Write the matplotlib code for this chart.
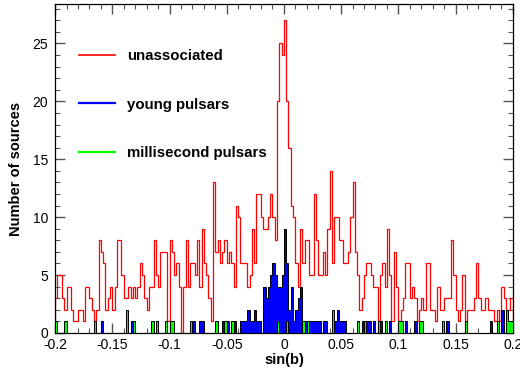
import numpy as np
import matplotlib.pyplot as plt
from matplotlib.lines import Line2D
from matplotlib.ticker import MultipleLocator, FuncFormatter

plt.rcParams['font.family'] = ['Liberation Sans', 'DejaVu Sans']
plt.rcParams['axes.unicode_minus'] = False

# sin(b) histogram, 200 bins of 0.002 between -0.2 and 0.2
bin_lo = -0.2
bin_hi = 0.2
nbins = 200

unassociated = [
    3, 5, 5, 3, 2, 4, 4, 2, 1, 1, 2, 2, 1, 4, 4, 3, 2, 1, 2, 8,
    7, 6, 2, 3, 4, 2, 4, 8, 8, 5, 3, 3, 4, 3, 4, 3, 4, 6, 5, 3,
    2, 4, 4, 8, 5, 4, 7, 7, 7, 1, 8, 7, 5, 6, 4, 0, 4, 8, 4, 6,
    6, 5, 8, 4, 9, 6, 5, 3, 1, 13, 7, 8, 6, 7, 8, 6, 7, 6, 4, 11,
    10, 6, 6, 6, 4, 5, 9, 6, 12, 12, 10, 9, 9, 10, 12, 10, 8, 20, 25, 24,
    27, 20, 16, 11, 10, 6, 4, 9, 6, 8, 8, 5, 5, 12, 8, 5, 5, 7, 5, 9,
    14, 6, 10, 10, 8, 8, 6, 6, 7, 10, 13, 7, 5, 2, 3, 5, 6, 6, 5, 4,
    4, 0, 5, 6, 4, 9, 5, 1, 7, 4, 1, 2, 3, 6, 6, 3, 4, 3, 1, 2,
    3, 2, 6, 6, 2, 2, 1, 4, 2, 2, 3, 3, 3, 8, 5, 2, 1, 2, 5, 0,
    2, 2, 2, 3, 6, 3, 2, 2, 3, 2, 2, 2, 1, 2, 1, 4, 3, 2, 2, 3,
]

young = [
    0, 0, 0, 0, 0, 0, 0, 0, 0, 0, 0, 0, 0, 0, 0, 0, 0, 0, 0, 0,
    1, 0, 0, 0, 0, 0, 0, 0, 0, 0, 0, 0, 0, 1, 0, 0, 0, 0, 0, 0,
    0, 0, 0, 0, 0, 0, 0, 0, 0, 0, 0, 0, 0, 0, 0, 0, 0, 0, 0, 0,
    1, 0, 0, 1, 1, 0, 0, 0, 0, 0, 0, 0, 0, 1, 0, 1, 0, 0, 1, 0,
    0, 1, 1, 1, 2, 1, 1, 2, 1, 1, 0, 4, 3, 4, 5, 6, 5, 4, 4, 5,
    9, 6, 2, 4, 1, 2, 3, 4, 1, 1, 0, 1, 1, 1, 1, 1, 0, 1, 1, 0,
    0, 0, 1, 2, 1, 1, 1, 0, 0, 0, 0, 0, 0, 0, 1, 0, 1, 1, 0, 1,
    0, 0, 1, 0, 0, 0, 1, 0, 0, 0, 0, 0, 0, 1, 0, 0, 0, 1, 0, 0,
    0, 0, 0, 0, 0, 0, 0, 0, 0, 0, 0, 1, 0, 0, 0, 0, 0, 0, 0, 0,
    0, 0, 0, 0, 0, 0, 0, 0, 0, 0, 1, 0, 0, 0, 0, 2, 0, 0, 0, 0,
]

msp = [
    1, 0, 0, 0, 1, 0, 0, 0, 0, 0, 0, 0, 0, 0, 0, 0, 0, 1, 0, 0,
    0, 0, 0, 0, 0, 0, 0, 0, 0, 0, 0, 2, 0, 0, 1, 0, 0, 0, 0, 0,
    0, 0, 1, 0, 1, 0, 0, 0, 1, 0, 1, 1, 0, 0, 0, 0, 0, 0, 0, 1,
    0, 0, 0, 0, 0, 0, 0, 0, 0, 0, 1, 0, 0, 0, 1, 0, 0, 1, 0, 0,
    0, 0, 0, 0, 0, 0, 0, 0, 0, 0, 0, 0, 0, 0, 0, 0, 0, 1, 0, 0,
    0, 1, 0, 0, 0, 0, 0, 0, 1, 0, 1, 0, 0, 0, 0, 0, 0, 0, 0, 0,
    0, 2, 0, 0, 0, 0, 0, 0, 0, 0, 0, 0, 1, 0, 0, 1, 0, 0, 0, 0,
    0, 1, 0, 0, 1, 0, 0, 0, 0, 0, 1, 1, 0, 0, 0, 0, 0, 0, 0, 1,
    1, 0, 0, 0, 0, 0, 0, 0, 0, 1, 0, 0, 0, 0, 0, 0, 0, 0, 0, 1,
    0, 0, 0, 0, 0, 0, 0, 0, 0, 0, 0, 0, 0, 1, 0, 0, 0, 2, 1, 1,
]

edges = np.linspace(bin_lo, bin_hi, nbins + 1)

fig = plt.figure(figsize=(5.2, 3.72), dpi=100)
ax = fig.add_axes([0.106, 0.105, 0.880, 0.884])

ax.stairs(unassociated, edges, color='#ff0000', lw=0.9, zorder=2)
ax.stairs(young, edges, fill=True, color='#0000ff', zorder=3)
ax.stairs(young, edges, color='black', lw=0.7, zorder=3)
ax.stairs(msp, edges, fill=True, color='#00ff00', zorder=4)
ax.stairs(msp, edges, color='black', lw=0.7, zorder=4)

ax.set_xlim(bin_lo, bin_hi)
ax.set_ylim(0, 28.4)

ax.xaxis.set_major_locator(MultipleLocator(0.05))
ax.xaxis.set_minor_locator(MultipleLocator(0.01))
ax.yaxis.set_major_locator(MultipleLocator(5))
ax.yaxis.set_minor_locator(MultipleLocator(1))
ax.xaxis.set_major_formatter(FuncFormatter(lambda v, p: '%g' % round(v, 3)))
ax.tick_params(which='both', direction='in', top=True, right=True,
               labelsize=10, color='#555555')
ax.tick_params(which='major', length=7, width=1)
ax.tick_params(which='minor', length=3.5, width=0.8)
ax.tick_params(axis='y', pad=5)
for s in ax.spines.values():
    s.set_linewidth(0.9)

ax.set_xlabel('sin(b)', fontsize=10.5, fontweight='bold', labelpad=1)
ax.set_ylabel('Number of sources', fontsize=10.5, fontweight='bold', labelpad=7)

handles = [Line2D([], [], color='#ff0000', lw=1.2),
           Line2D([], [], color='#0000ff', lw=1.6),
           Line2D([], [], color='#00ff00', lw=1.6)]
names = ['unassociated', 'young pulsars', 'millisecond pulsars']
ax.legend(handles, names, loc='upper left', bbox_to_anchor=(0.022, 0.903),
          frameon=False, handlelength=2.4, handletextpad=0.8,
          labelspacing=2.28, prop={'weight': 'bold', 'size': 10.8})

fig.savefig('out.png', dpi=100)
